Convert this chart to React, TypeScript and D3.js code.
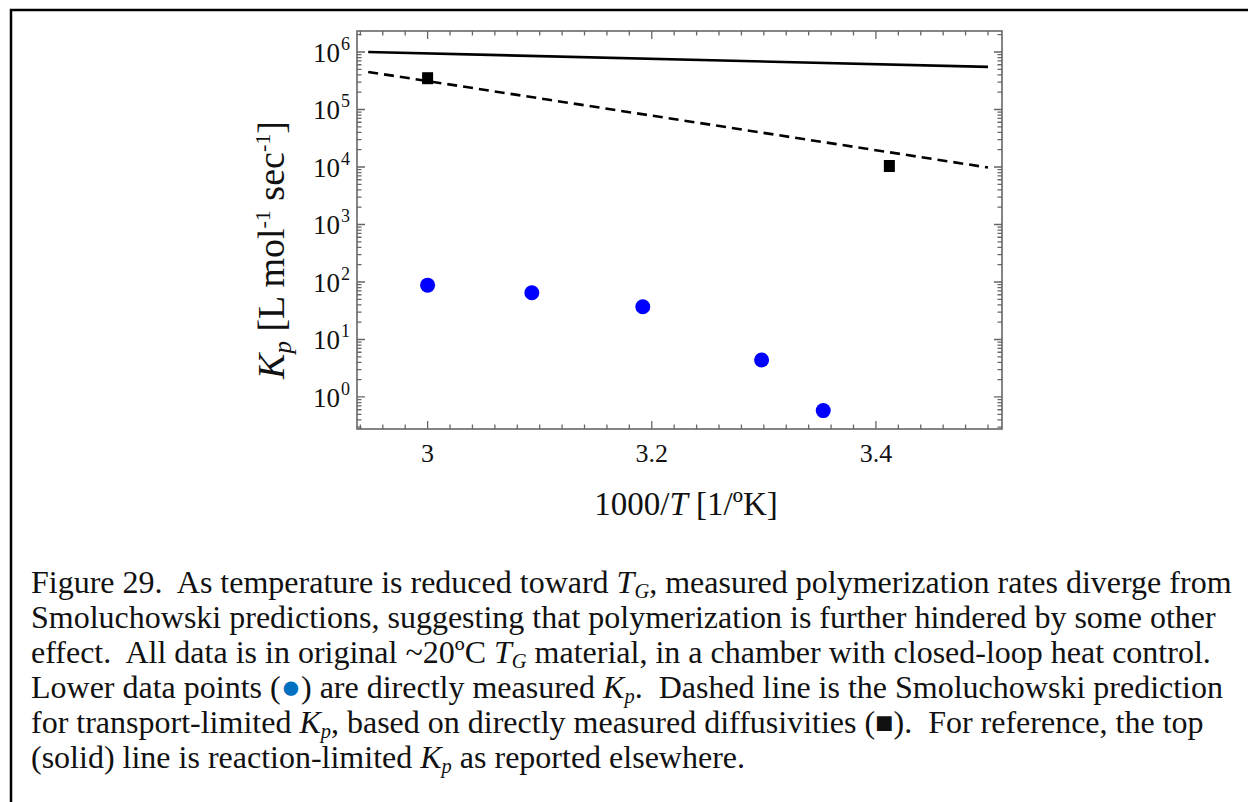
import React from 'react';
import * as d3 from 'd3';

// measured rates (blue dots)
const dotX = [3.0, 3.093, 3.192, 3.298, 3.353];
const dotKp = [88, 65, 37, 4.4, 0.58];
// diffusivity based points (black squares)
const squareX = [3.0, 3.412];
const squareKp = [3.5e5, 1.04e4];
// reaction-limited (solid) and Smoluchowski (dashed) lines
const lineX = [2.947, 3.5];
const solidKp = [1.0e6, 5.5e5];
const dashedKp = [4.5e5, 9.8e3];

const xTicks = [3, 3.2, 3.4];
const xTickLabels = ['3', '3.2', '3.4'];
const yExponents = [0, 1, 2, 3, 4, 5, 6];

type Part = { text: string; style?: 'i' | 'sub' | 'dot' | 'sq' };
const captionLines: Part[][] = [
  [
    { text: 'Figure 29.  As temperature is reduced toward ' },
    { text: 'T', style: 'i' },
    { text: 'G', style: 'sub' },
    { text: ', measured polymerization rates diverge from' },
  ],
  [{ text: 'Smoluchowski predictions, suggesting that polymerization is further hindered by some other' }],
  [
    { text: 'effect.  All data is in original ~20ºC ' },
    { text: 'T', style: 'i' },
    { text: 'G', style: 'sub' },
    { text: ' material, in a chamber with closed-loop heat control.' },
  ],
  [
    { text: 'Lower data points (' },
    { text: '●', style: 'dot' },
    { text: ') are directly measured ' },
    { text: 'K', style: 'i' },
    { text: 'p', style: 'sub' },
    { text: '.  Dashed line is the Smoluchowski prediction' },
  ],
  [
    { text: 'for transport-limited ' },
    { text: 'K', style: 'i' },
    { text: 'p', style: 'sub' },
    { text: ', based on directly measured diffusivities (' },
    { text: '■', style: 'sq' },
    { text: ').  For reference, the top' },
  ],
  [
    { text: '(solid) line is reaction-limited ' },
    { text: 'K', style: 'i' },
    { text: 'p', style: 'sub' },
    { text: ' as reported elsewhere.' },
  ],
];

const W = 1248;
const H = 802;
const left = 357, right = 1002, top = 31, bottom = 429;
const serif = '"Liberation Serif", "Times New Roman", serif';
const frameColor = '#666';

export default function App() {
  const x = d3.scaleLinear().domain([2.937, 3.5125]).range([left, right]);
  const y = d3.scaleLog().domain([Math.pow(10, -0.557), Math.pow(10, 6.365)]).range([bottom, top]);

  const [yLo, yHi] = y.domain();
  const minorY: number[] = [];
  for (let e = -1; e <= 6; e++) {
    for (let k = 2; k <= 9; k++) {
      const v = k * Math.pow(10, e);
      if (v >= yLo && v <= yHi) minorY.push(v);
    }
  }
  const minorX = d3.range(2.94, 3.511, 0.02).filter(v => !xTicks.some(t => Math.abs(t - v) < 1e-6));

  const line = d3.line<number>().x((_, i) => x(lineX[i])).y(d => y(d));

  const tickPaths: string[] = [];
  yExponents.forEach(e => {
    const py = y(Math.pow(10, e));
    tickPaths.push(`M${left},${py}h8M${right},${py}h-8`);
  });
  minorY.forEach(v => {
    const py = y(v);
    tickPaths.push(`M${left},${py}h4.5M${right},${py}h-4.5`);
  });
  xTicks.forEach(v => {
    const px = x(v);
    tickPaths.push(`M${px},${bottom}v-8M${px},${top}v8`);
  });
  minorX.forEach(v => {
    const px = x(v);
    tickPaths.push(`M${px},${bottom}v-4.5M${px},${top}v4.5`);
  });

  const captionSize = 32;
  const subDrop = 5;
  const renderLine = (parts: Part[]) =>
    parts.map((p, i) => {
      const afterSub = i > 0 && parts[i - 1].style === 'sub';
      const dy = afterSub ? -subDrop : undefined;
      if (p.style === 'i') return <tspan key={i} dy={dy} fontStyle="italic">{p.text}</tspan>;
      if (p.style === 'sub')
        return (
          <tspan key={i} fontStyle="italic" fontSize={captionSize * 0.64} dy={subDrop}>
            {p.text}
          </tspan>
        );
      if (p.style === 'dot') return <tspan key={i} dy={dy} fill="#0070c0" fontSize={captionSize * 1.05}>{p.text}</tspan>;
      if (p.style === 'sq') return <tspan key={i} dy={dy} fontSize={captionSize * 0.95}>{p.text}</tspan>;
      return <tspan key={i} dy={dy}>{p.text}</tspan>;
    });

  return (
    <svg
      width={W}
      height={H}
      style={{ position: 'absolute', left: 0, top: 0, background: '#fff' }}
      fontFamily={serif}
    >
      <rect x={0} y={0} width={W} height={H} fill="#fff" />
      <path d={`M11,${H}V10H${W + 5}`} fill="none" stroke="#000" strokeWidth={2.5} />

      {/* plot frame and ticks */}
      <rect x={left} y={top} width={right - left} height={bottom - top} fill="none" stroke={frameColor} strokeWidth={1.6} />
      <path d={tickPaths.join('')} fill="none" stroke={frameColor} strokeWidth={1.3} />

      {/* lines */}
      <path d={line(solidKp) || ''} fill="none" stroke="#000" strokeWidth={2.6} />
      <path d={line(dashedKp) || ''} fill="none" stroke="#000" strokeWidth={2.6} strokeDasharray="10,6" />

      {/* squares */}
      {squareX.map((v, i) => (
        <rect key={i} x={x(v) - 5.5} y={y(squareKp[i]) - 6} width={11} height={12} fill="#000" />
      ))}

      {/* dots */}
      {dotX.map((v, i) => (
        <circle key={i} cx={x(v)} cy={y(dotKp[i])} r={7.5} fill="#0000ff" />
      ))}

      {/* y tick labels */}
      {yExponents.map(e => (
        <text key={e} x={340} y={y(Math.pow(10, e)) + 10} textAnchor="end" fontSize={27} fill="#111">
          10
          <tspan x={341} dy={-12} textAnchor="start" fontSize={18}>{e}</tspan>
        </text>
      ))}

      {/* x tick labels */}
      {xTicks.map((v, i) => (
        <text key={v} x={x(v)} y={462} textAnchor="middle" fontSize={26} fill="#111">
          {xTickLabels[i]}
        </text>
      ))}

      {/* axis titles */}
      <text x={686} y={515} textAnchor="middle" fontSize={33} fill="#111">
        1000/<tspan fontStyle="italic">T</tspan> [1/ºK]
      </text>
      <text transform="translate(284,250) rotate(-90)" textAnchor="middle" fontSize={38} fill="#111">
        <tspan fontStyle="italic">K</tspan>
        <tspan fontStyle="italic" fontSize={25} dy={7}>p</tspan>
        <tspan dy={-7}> [L mol</tspan>
        <tspan fontSize={22} dy={-14}>-1</tspan>
        <tspan dy={14}> sec</tspan>
        <tspan fontSize={22} dy={-14}>-1</tspan>
        <tspan dy={14}>]</tspan>
      </text>

      {/* caption */}
      {captionLines.map((parts, li) => (
        <text
          key={li}
          x={31}
          y={593 + li * 35}
          fontSize={captionSize}
          fill="#111"
          style={{ whiteSpace: 'pre' }}
        >
          {renderLine(parts)}
        </text>
      ))}
    </svg>
  );
}
